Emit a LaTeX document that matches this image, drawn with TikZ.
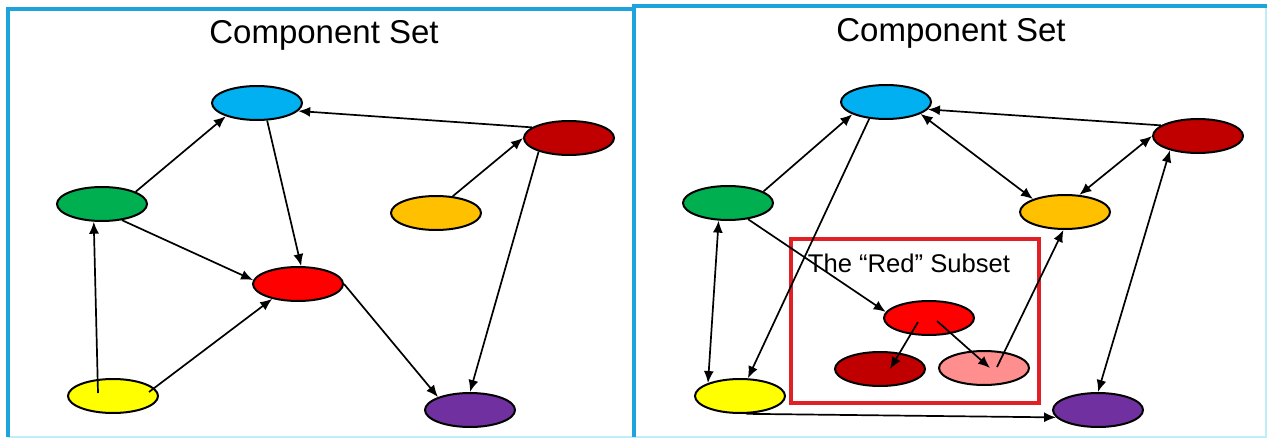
\documentclass[tikz,border=0pt]{standalone}
\usepackage{fontspec}
\setmainfont{Liberation Sans}
\usetikzlibrary{shapes.geometric,arrows.meta,calc}

\definecolor{frameblue}{RGB}{30,163,220}
\definecolor{framepale}{RGB}{190,238,248}
\definecolor{boxred}{RGB}{224,32,36}
\definecolor{cblue}{RGB}{0,176,240}
\definecolor{cdark}{RGB}{192,0,0}
\definecolor{cgreen}{RGB}{0,176,80}
\definecolor{corange}{RGB}{255,192,0}
\definecolor{cred}{RGB}{255,0,0}
\definecolor{cyellow}{RGB}{255,255,0}
\definecolor{cpurple}{RGB}{112,48,160}
\definecolor{cpink}{RGB}{255,143,143}

\begin{document}
\begin{tikzpicture}
	[	x=0.5pt,y=-0.5pt,
	comp/.style={ellipse,draw=black,line width=1pt,minimum width=45pt,minimum height=17pt,inner sep=0pt},
	link/.style={line width=0.85pt},
	title/.style={font=\fontsize{16.5}{18}\selectfont},
	subtitle/.style={font=\fontsize{12.8}{14}\selectfont},
	>={Latex[length=6pt,width=5pt]}
	]
	\useasboundingbox (0,0) rectangle (1267,438);

	% panels
	\draw[framepale,line width=1pt] (8,437) -- (1267,437);
	\draw[framepale,line width=1pt] (1266,6) -- (1266,437);
	\draw[frameblue,line width=1.8pt] (8,437) -- (8,9) -- (634,9);
	\draw[frameblue,line width=1.8pt] (634,437) -- (634,6) -- (1267,6);

	% left: component set
	\node[title] (ltitle) at (324,35){Component Set};
	\node[comp,fill=cblue] (lblue) at (257,103){};
	\node[comp,fill=cdark] (ldark) at (569,138){};
	\node[comp,fill=cgreen] (lgreen) at (102,204){};
	\node[comp,fill=corange] (lorange) at (436,213){};
	\node[comp,fill=cred] (lred) at (298,284){};
	\node[comp,fill=cyellow] (lyellow) at (113,396){};
	\node[comp,fill=cpurple] (lpurple) at (470,410){};

	\draw[link,->] (lgreen.20) -- (lblue.203);
	\draw[link,->] (ldark.164) -- (lblue.349);
	\draw[link,->] (lblue.300) -- (lred.80);
	\draw[link,->] (lgreen.321) -- (lred.175);
	\draw[link,->] ($(lyellow)+(-15,-3)$) -- (lgreen.245);
	\draw[link,->] ($(lyellow)+(36,-4)$) -- (lred.210);
	\draw[link,->] (lorange.45) -- (ldark.180);
	\draw[link,->] (lred.0) -- (lpurple.158);
	\draw[link,->] (ldark.204) -- (lpurple.90);

	% right: component set with the red subset
	\node[title] (rtitle) at (951,33){Component Set};
	\draw[boxred,line width=1.6pt] (791,239) rectangle (1039,403);
	\node[subtitle] (rsub) at (909,263){The “Red” Subset};
	\node[comp,fill=cblue] (rblue) at (886,102){};
	\node[comp,fill=cdark] (rdark) at (1198,136){};
	\node[comp,fill=cgreen] (rgreen) at (728,203){};
	\node[comp,fill=corange] (rorange) at (1065,212){};
	\node[comp,fill=cred] (rred) at (929,318){};
	\node[comp,fill=cdark] (rdarksub) at (880,369){};
	\node[comp,fill=cpink] (rpink) at (984,368){};
	\node[comp,fill=cyellow] (ryellow) at (740,396){};
	\node[comp,fill=cpurple] (rpurple) at (1098,410){};

	\draw[link,->] (rgreen.18) -- (rblue.200);
	\draw[link,->] (rdark.164) -- (rblue.350);
	\draw[link,<->] (rblue.341) -- (rorange.158);
	\draw[link,<->] (rorange.50) -- (rdark.180);
	\draw[link,->] (rblue.225) -- (ryellow.66);
	\draw[link,<->] (rgreen.242) -- (ryellow.158);
	\draw[link,->] (rgreen.321) -- (rred.172);
	\draw[link,->] ($(rred)+(-11,4)$) -- ($(rdarksub)+(10,0)$);
	\draw[link,->] ($(rred)+(8,3)$) -- ($(rpink)+(6,0)$);
	\draw[link,->] ($(rpink)+(13,-1)$) -- (rorange.265);
	\draw[link,<->] (rdark.207) -- (rpurple.90);
	\draw[link,->] (ryellow.290) -- (rpurple.190);
\end{tikzpicture}
\end{document}
